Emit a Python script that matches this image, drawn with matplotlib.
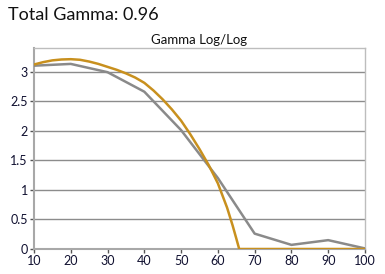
import matplotlib
matplotlib.use("Agg")
import matplotlib.pyplot as plt

plt.rcParams['font.family'] = ['Lato', 'DejaVu Sans']

x_gray = [10, 20, 30, 40, 50, 60, 70, 80, 90, 100]
y_gray = [3.10, 3.13, 2.99, 2.66, 2.01, 1.20, 0.26, 0.07, 0.15, 0.01]

x_orange = [10, 12.5, 15, 17.5, 20, 22.5, 25, 27.5, 30, 32.5, 35, 37.5, 40, 42.5, 45,
            47.5, 50, 52.5, 55, 57.5, 60, 62.5, 64, 65, 65.8, 70, 80, 90, 100]
y_orange = [3.12, 3.16, 3.19, 3.205, 3.21, 3.20, 3.17, 3.13, 3.08, 3.03, 2.97, 2.90, 2.81, 2.68, 2.53,
            2.36, 2.17, 1.94, 1.69, 1.42, 1.11, 0.70, 0.40, 0.18, 0, 0, 0, 0, 0]

xticks = [10, 20, 30, 40, 50, 60, 70, 80, 90, 100]
yticks = [0, 0.5, 1, 1.5, 2, 2.5, 3]
ytick_labels = ['0', '0.5', '1', '1.5', '2', '2.5', '3']

fig = plt.figure(figsize=(3.85, 2.74), dpi=100)
fig.patch.set_facecolor('white')
ax = fig.add_axes([0.0883, 0.0912, 0.8597, 0.7338])

ax.set_xlim(10, 100)
ax.set_ylim(0, 3.4)
ax.set_yticks(yticks)
ax.set_yticklabels(ytick_labels)
ax.set_xticks(xticks)
ax.yaxis.grid(True, color='#8c8c8c', linewidth=1.0)
ax.set_axisbelow(True)

ax.plot(x_gray, y_gray, color='#8a8a8a', linewidth=1.8, zorder=3)
ax.plot(x_orange, y_orange, color='#c8901e', linewidth=1.8, zorder=4)

for s in ['top', 'right']:
    ax.spines[s].set_color('#bdbdbd')
    ax.spines[s].set_linewidth(1.0)
for s in ['left', 'bottom']:
    ax.spines[s].set_color('#a8a8a8')
    ax.spines[s].set_linewidth(1.5)

ax.tick_params(axis='both', direction='out', length=3, width=1, color='#555555',
               labelsize=9, labelcolor='#101030', pad=1.5)

ax.set_title('Gamma Log/Log', fontsize=9.5, pad=3, color='#111111')
fig.text(0.021, 0.945, 'Total Gamma: 0.96', fontsize=13, ha='left', va='center', color='#111111')

fig.savefig('out.png', dpi=100)
